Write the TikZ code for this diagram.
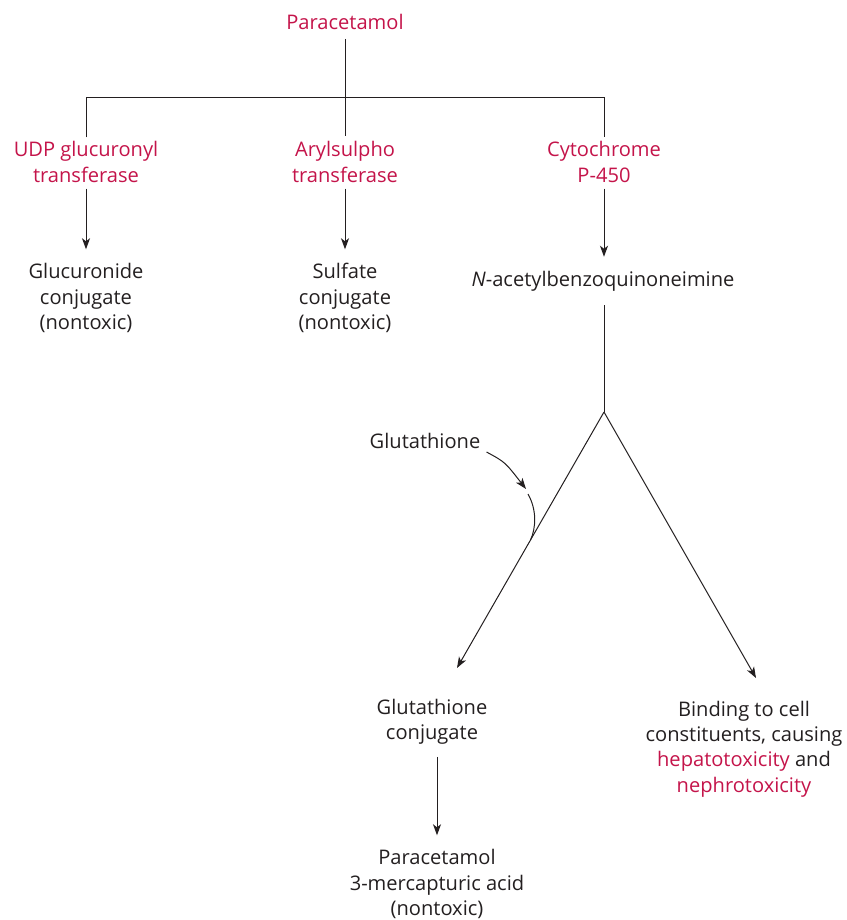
\documentclass[tikz,border=0pt]{standalone}
\usepackage{fontspec}
\setmainfont{Open Sans}
\usetikzlibrary{arrows.meta,calc}
\definecolor{ink}{RGB}{35,31,32}
\definecolor{crim}{RGB}{196,20,74}
\tikzset{
  lbl/.style={inner sep=0pt, align=center, text=ink, font=\fontsize{20.1}{25.3}\selectfont},
  enz/.style={lbl, text=crim},
  ln/.style={draw=ink, line width=1pt},
  arr/.style={ln, -{Stealth[length=11pt,width=8pt,inset=3pt]}},
}
\begin{document}
\begin{tikzpicture}[x=1pt,y=-1pt]
\useasboundingbox (0,0) rectangle (846,920);
% nodes
\node[enz] (para) at (345,22) {Paracetamol};
\node[enz] (udp) at (86,162) {UDP glucuronyl\\transferase};
\node[enz] (aryl) at (345,162) {Arylsulpho\\transferase};
\node[enz] (cyp) at (604,162) {Cytochrome\\P-450};
\node[lbl] (gluc) at (86,298) {Glucuronide\\conjugate\\(nontoxic)};
\node[lbl] (sulf) at (345,298) {Sulfate\\conjugate\\(nontoxic)};
\node[lbl] (nabq) at (603,281) {\textit{N}-acetylbenzoquinoneimine};
\node[lbl] (glu) at (425,441) {Glutathione};
\node[lbl] (gconj) at (432,722) {Glutathione\\conjugate};
\node[lbl] (merc) at (437,884) {Paracetamol\\3-mercapturic acid\\(nontoxic)};
\node[lbl] (bind) at (744,749) {Binding to cell\\constituents, causing\\\textcolor{crim}{hepatotoxicity} and\\\textcolor{crim}{nephrotoxicity}};
% coordinates
\coordinate (hl) at (86,98);
\coordinate (hr) at (604,98);
\coordinate (fork) at (604,412);
\coordinate (lt) at (457,668);
\coordinate (rt) at (756,678);
\coordinate (gj) at ($(fork)!0.5!(lt)$);
\coordinate (g1) at (526,489);
\coordinate (g2) at (528,494);
% connectors
\draw[ln, shorten <=9pt, shorten >=5pt] (para.south) -- (aryl.north);
\draw[ln, shorten <=4pt, shorten >=4pt] (udp.north) -- (hl) -- (hr) -- (cyp.north);
\draw[arr, shorten <=6pt, shorten >=14pt] (udp.south) -- (udp.south |- gluc.north);
\draw[arr, shorten <=6pt, shorten >=14pt] (aryl.south) -- (aryl.south |- gluc.north);
\draw[arr, shorten <=6pt, shorten >=14pt] (cyp.south) -- (cyp.south |- nabq.north);
\draw[ln, shorten <=14pt] (nabq.south -| fork) -- (fork);
\draw[arr] (fork) -- (lt);
\draw[arr] (fork) -- (rt);
\draw[arr] ($(glu.east)+(6,11)$) .. controls (505,462) .. (g1);
\draw[ln] (g2) .. controls (537,510) and (536,528) .. (gj);
\draw[arr, shorten <=12pt, shorten >=14pt] (merc.north |- gconj.south) -- (merc.north);
\end{tikzpicture}
\end{document}
